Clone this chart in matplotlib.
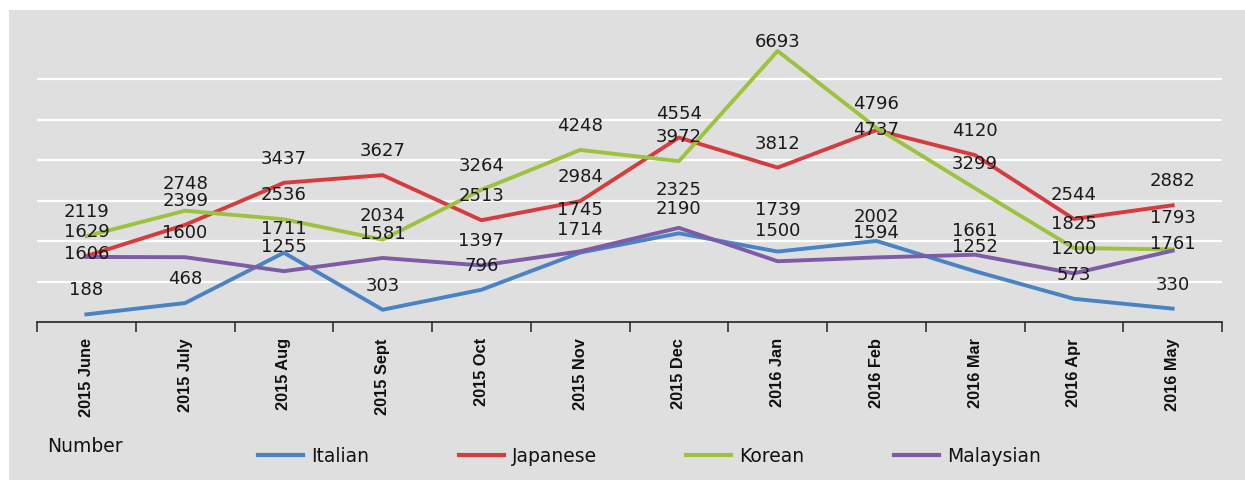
import matplotlib
matplotlib.use("Agg")
import matplotlib.pyplot as plt
from matplotlib.patches import Rectangle
from matplotlib.ticker import FixedLocator, NullFormatter

# ---- data ----
months = ["2015 June", "2015 July", "2015 Aug", "2015 Sept", "2015 Oct", "2015 Nov",
          "2015 Dec", "2016 Jan", "2016 Feb", "2016 Mar", "2016 Apr", "2016 May"]
italian = [188, 468, 1711, 303, 796, 1714, 2190, 1739, 2002, 1252, 573, 330]
japanese = [1629, 2399, 3437, 3627, 2513, 2984, 4554, 3812, 4737, 4120, 2544, 2882]
korean = [2119, 2748, 2536, 2034, 3264, 4248, 3972, 6693, 4796, 3299, 1825, 1793]
malaysian = [1606, 1600, 1255, 1581, 1397, 1745, 2325, 1500, 1594, 1661, 1200, 1761]

series_names = ["Italian", "Japanese", "Korean", "Malaysian"]
series_values = [italian, japanese, korean, malaysian]

# ---- style ----
colors = {"Italian": "#4a82c6", "Japanese": "#d63c3e", "Korean": "#9cc33e", "Malaysian": "#7d5ba6"}
default_offset = 25  # label offset above point, pixels
offset_overrides = {("Italian", 7): 43, ("Japanese", 8): 1, ("Korean", 7): 10,
                    ("Korean", 11): 32, ("Malaysian", 0): 4, ("Malaysian", 5): 42,
                    ("Malaysian", 6): 39, ("Malaysian", 7): 31, ("Malaysian", 11): 8,
                    ("Korean", 1): 28, ("Japanese", 1): 25, ("Italian", 5): 24}

W, H = 1245, 481
fig = plt.figure(figsize=(W / 100, H / 100), dpi=100, facecolor="white")
fig.patches.append(Rectangle((9 / W, 0), 1 - 9 / W, (H - 11) / H, transform=fig.transFigure,
                             facecolor="#dfdfdf", edgecolor="none", zorder=-10))

left, right = 37 / W, 1222 / W
bottom = (H - 323) / H
top = (H - 39.5) / H
ax = fig.add_axes([left, bottom, right - left, top - bottom])
ax.set_facecolor("none")
ax.set_xlim(-0.5, len(months) - 0.5)
ax.set_ylim(0, 7000)

for s in ["top", "right", "left"]:
    ax.spines[s].set_visible(False)
ax.spines["bottom"].set_color("#222222")
ax.spines["bottom"].set_linewidth(1.2)

ax.set_yticks([1000, 2000, 3000, 4000, 5000, 6000])
ax.yaxis.grid(True, color="white", linewidth=1.6)
ax.set_axisbelow(True)
ax.tick_params(axis="y", left=False, labelleft=False)

x = list(range(len(months)))
ax.set_xticks(x)
ax.set_xticklabels(months, rotation=90, fontsize=11.8, fontweight="bold",
                   family="Liberation Sans", color="#111111")
ax.tick_params(axis="x", which="major", length=0, pad=11)
ax.xaxis.set_minor_locator(FixedLocator([i - 0.5 for i in range(len(months) + 1)]))
ax.xaxis.set_minor_formatter(NullFormatter())
ax.tick_params(axis="x", which="minor", length=7, width=1.1, color="#222222", direction="out")

for name, vals in zip(series_names, series_values):
    ax.plot(x, vals, color=colors[name], linewidth=2.8, label=name, solid_joinstyle="round",
            zorder=3)

for name, vals in zip(series_names, series_values):
    for i, v in enumerate(vals):
        off = offset_overrides.get((name, i), default_offset)
        ax.annotate(str(v), (i, v), xytext=(0, off), textcoords="offset pixels",
                    ha="center", va="center", fontsize=13, color="#1a1a1a",
                    family="DejaVu Sans", zorder=5, annotation_clip=False)

fig.text(47 / W, 1 - 446 / H, "Number", fontsize=13.5, family="DejaVu Sans",
         color="#111111", ha="left", va="center")

handles, labels = ax.get_legend_handles_labels()
leg = fig.legend(handles, labels, ncol=4, loc="center left",
                 bbox_to_anchor=(258 / W, 1 - 457 / H), frameon=False,
                 prop={"family": "DejaVu Sans", "size": 13.5},
                 handlelength=2.4, handletextpad=0.45, columnspacing=4.75,
                 borderaxespad=0, borderpad=0)
for t in leg.get_texts():
    t.set_color("#111111")
for lh in leg.get_lines():
    lh.set_linewidth(3)

fig.savefig("out.png", dpi=100, facecolor="white")
